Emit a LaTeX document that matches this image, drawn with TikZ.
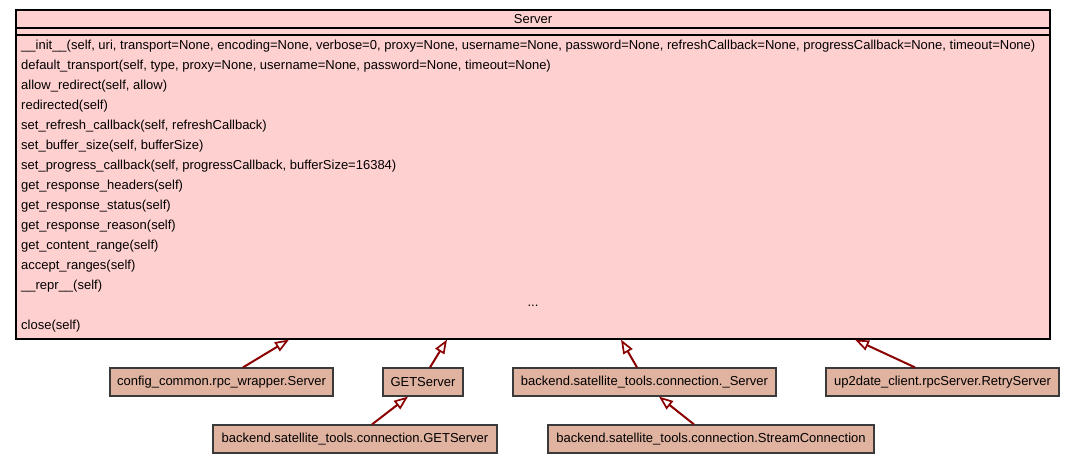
\documentclass[tikz,border=0pt]{standalone}
\usepackage{fontspec}
\setmainfont{Liberation Sans}
\usetikzlibrary{arrows.meta}
\definecolor{srvfill}{HTML}{FFD0D0}
\definecolor{chfill}{HTML}{E0B2A0}
\definecolor{edgered}{HTML}{8B0000}
\definecolor{bord}{HTML}{3A3A3A}
\tikzset{
  txt/.style={font=\fontsize{13}{15}\selectfont},
  srvbox/.style={draw=black, fill=srvfill, line width=1.2pt, minimum width=1034pt, minimum height=329pt, inner sep=0pt},
  child/.style={txt, draw=bord, fill=chfill, line width=1.2pt, minimum height=28pt, inner sep=0pt},
  meth/.style={txt, anchor=west, inner sep=0pt},
  inh/.style={draw=edgered, line width=2pt, -{Triangle[open, length=14pt, width=10.5pt, line width=1.7pt]}},
  sep/.style={draw=black, line width=1.2pt}
}
\begin{document}
\begin{tikzpicture}[x=1pt, y=-1pt]
\useasboundingbox (0,0) rectangle (1075,464);
\fill[white] (0,0) rectangle (1075,464);
\node[srvbox] (server) at (533,174.5) {};
\draw[sep] (server.west |- 0,28) -- (server.east |- 0,28);
\draw[sep] (server.west |- 0,35) -- (server.east |- 0,35);
\node[txt, inner sep=0pt] (title) at (533,19) {Server};
\node[meth] (m1) at (21,46) {\_\_init\_\_(self, uri, transport=None, encoding=None, verbose=0, proxy=None, username=None, password=None, refreshCallback=None, progressCallback=None, timeout=None)};
\node[meth] (m2) at (21,66) {default\_transport(self, type, proxy=None, username=None, password=None, timeout=None)};
\node[meth] (m3) at (21,86) {allow\_redirect(self, allow)};
\node[meth] (m4) at (21,106) {redirected(self)};
\node[meth] (m5) at (21,126) {set\_refresh\_callback(self, refreshCallback)};
\node[meth] (m6) at (21,146) {set\_buffer\_size(self, bufferSize)};
\node[meth] (m7) at (21,166) {set\_progress\_callback(self, progressCallback, bufferSize=16384)};
\node[meth] (m8) at (21,186) {get\_response\_headers(self)};
\node[meth] (m9) at (21,206) {get\_response\_status(self)};
\node[meth] (m10) at (21,226) {get\_response\_reason(self)};
\node[meth] (m11) at (21,246) {get\_content\_range(self)};
\node[meth] (m12) at (21,266) {accept\_ranges(self)};
\node[meth] (m13) at (21,286) {\_\_repr\_\_(self)};
\node[txt, inner sep=0pt] (dots) at (533,306) {...};
\node[meth] (m14) at (21,326) {close(self)};

\node[child, minimum width=223pt] (cfg) at (221.5,382) {config\_common.rpc\_wrapper.Server};
\node[child, minimum width=80pt] (get) at (423,382) {GETServer};
\node[child, minimum width=263pt] (bsrv) at (644.5,382) {backend.satellite\_tools.connection.\_Server};
\node[child, minimum width=233pt] (retry) at (942.5,382) {up2date\_client.rpcServer.RetryServer};
\node[child, minimum width=284pt] (bget) at (355,439) {backend.satellite\_tools.connection.GETServer};
\node[child, minimum width=326pt] (stream) at (711,439) {backend.satellite\_tools.connection.StreamConnection};

\draw[inh] (cfg.north -| 243,0) -- (server.south -| 289,0);
\draw[inh] (get.north -| 430,0) -- (server.south -| 447,0);
\draw[inh] (bsrv.north -| 637,0) -- (server.south -| 621,0);
\draw[inh] (retry.north -| 915,0) -- (server.south -| 855,0);
\draw[inh] (bget.north -| 372,0) -- (get.south -| 408,0);
\draw[inh] (stream.north -| 694,0) -- (bsrv.south -| 659,0);
\end{tikzpicture}
\end{document}
